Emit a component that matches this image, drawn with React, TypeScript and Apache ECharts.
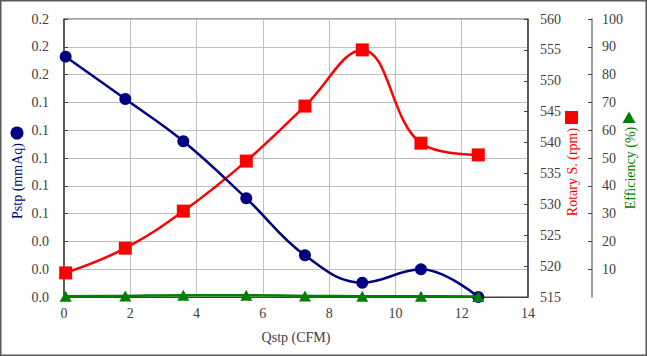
import React, { useEffect, useRef } from "react";
import * as echarts from "echarts";

const qstp = [0.05, 1.85, 3.6, 5.5, 7.27, 9.0, 10.77, 12.5];
const pstp = [0.1729, 0.1424, 0.112, 0.071, 0.03, 0.0103, 0.0199, 0.0];
const rpm = [518.9, 522.9, 528.9, 537.0, 545.9, 555.0, 539.9, 538.0];
const eff = [0.3, 0.4, 0.6, 0.6, 0.4, 0.3, 0.3, 0.2];

const xTitle = "Qstp (CFM)";
const pTitle = "Pstp (mmAq)";
const rTitle = "Rotary S. (rpm)";
const eTitle = "Efficiency (%)";

const FONT = "Liberation Serif";
const LABEL = "#404040";
const BLUE = "#000080";
const RED = "#FF0000";
const GREEN = "#008000";

export default function App() {
  const ref = useRef<HTMLDivElement>(null);
  useEffect(() => {
    if (!ref.current) return;
    const chart = echarts.init(ref.current, undefined, { renderer: "svg" });
    const pair = (ys: number[]) => qstp.map((x, i) => [x, ys[i]]);
    const labelStyle = { color: LABEL, fontFamily: FONT, fontSize: 14 };
    const txt = (text: string, fill: string) => ({
      text,
      fill,
      fontFamily: FONT,
      fontSize: 14,
      align: "center",
      verticalAlign: "middle",
    });
    chart.setOption({
      animation: false,
      backgroundColor: "#ffffff",
      textStyle: { fontFamily: FONT },
      grid: {
        left: 64,
        right: 119,
        top: 19,
        bottom: 59,
        show: true,
        borderColor: "#404040",
        borderWidth: 1,
        backgroundColor: "transparent",
      },
      xAxis: {
        type: "value",
        min: 0,
        max: 14,
        interval: 2,
        axisLine: { show: true, lineStyle: { color: "#404040", width: 1 } },
        axisTick: { show: false },
        axisLabel: { ...labelStyle, margin: 9 },
        splitLine: { show: true, lineStyle: { color: "#c0c0c0", width: 1 } },
      },
      yAxis: [
        {
          type: "value",
          min: 0,
          max: 0.2,
          interval: 0.02,
          position: "left",
          axisLine: { show: true, lineStyle: { color: "#404040", width: 1.5 } },
          axisTick: { show: true, inside: true, length: 4, lineStyle: { color: "#404040" } },
          axisLabel: { ...labelStyle, margin: 15, formatter: (v: number) => v.toFixed(1) },
          splitLine: { show: true, lineStyle: { color: "#c0c0c0", width: 1 } },
        },
        {
          type: "value",
          min: 515,
          max: 560,
          interval: 5,
          position: "right",
          axisLine: { show: true, lineStyle: { color: "#404040", width: 1.5 } },
          axisTick: { show: true, inside: true, length: 4, lineStyle: { color: "#404040" } },
          axisLabel: { ...labelStyle, margin: 12 },
          splitLine: { show: false },
        },
        {
          type: "value",
          min: 0,
          max: 100,
          interval: 10,
          position: "right",
          offset: 64,
          axisLine: { show: true, lineStyle: { color: "#808080", width: 1.5 } },
          axisTick: { show: true, inside: true, length: 4, lineStyle: { color: "#404040" } },
          axisLabel: { ...labelStyle, margin: 10, showMinLabel: false },
          splitLine: { show: false },
        },
      ],
      series: [
        {
          name: rTitle,
          type: "line",
          yAxisIndex: 1,
          data: pair(rpm),
          smooth: 0.4,
          symbol: "rect",
          symbolSize: 13,
          lineStyle: { color: RED, width: 2.5 },
          itemStyle: { color: RED },
          z: 3,
        },
        {
          name: pTitle,
          type: "line",
          yAxisIndex: 0,
          data: pair(pstp),
          smooth: 0.4,
          symbol: "circle",
          symbolSize: 12,
          lineStyle: { color: BLUE, width: 2.5 },
          itemStyle: { color: BLUE },
          z: 4,
        },
        {
          name: eTitle,
          type: "line",
          yAxisIndex: 2,
          data: pair(eff),
          smooth: 0.4,
          symbol: "triangle",
          symbolSize: [12, 11],
          lineStyle: { color: GREEN, width: 2.5 },
          itemStyle: { color: GREEN },
          z: 5,
        },
      ],
      graphic: [
        {
          type: "rect",
          shape: { x: 0.75, y: 0.75, width: 645.5, height: 354.5 },
          style: { fill: "none", stroke: "#595959", lineWidth: 1.5 },
          silent: true,
        },
        { type: "text", x: 296, y: 337, style: txt(xTitle, LABEL) },
        { type: "text", x: 17, y: 181, rotation: Math.PI / 2, style: txt(pTitle, BLUE) },
        { type: "circle", shape: { cx: 17, cy: 133, r: 6.5 }, style: { fill: BLUE } },
        { type: "text", x: 572, y: 172, rotation: Math.PI / 2, style: txt(rTitle, RED) },
        { type: "rect", shape: { x: 565, y: 111, width: 13, height: 13 }, style: { fill: RED } },
        { type: "text", x: 630, y: 168, rotation: Math.PI / 2, style: txt(eTitle, GREEN) },
        {
          type: "polygon",
          shape: { points: [[629, 111.5], [635.5, 123], [622.5, 123]] },
          style: { fill: GREEN },
        },
      ],
    });
    return () => chart.dispose();
  }, []);
  return (
    <div
      ref={ref}
      style={{ position: "fixed", left: 0, top: 0, width: 647, height: 356 }}
    />
  );
}
